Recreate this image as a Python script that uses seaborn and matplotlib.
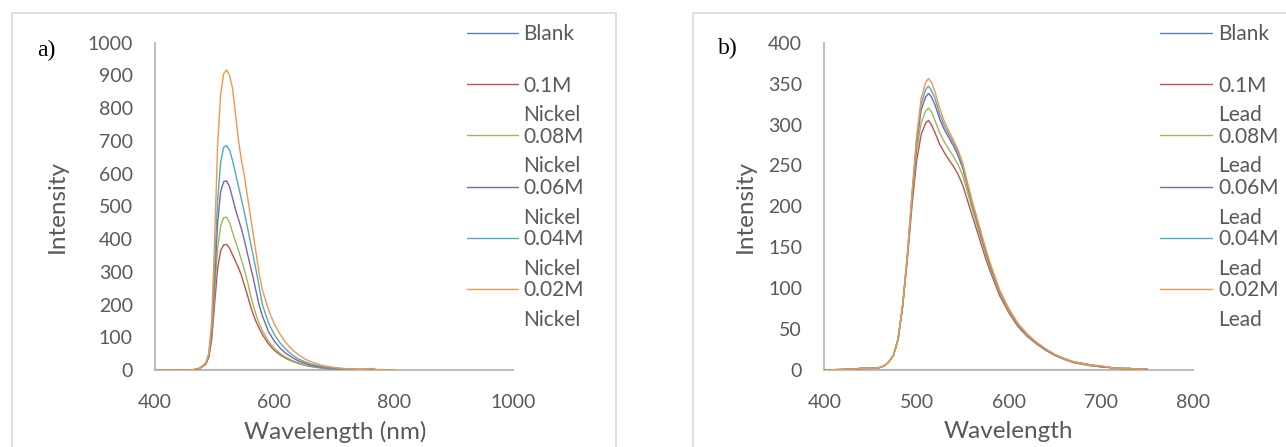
import matplotlib
matplotlib.use("Agg")
import matplotlib.pyplot as plt
import seaborn as sns
import pandas as pd
from matplotlib.lines import Line2D
from matplotlib.patches import Rectangle

sns.set_style("white")
plt.rcParams['font.family'] = ['Lato', 'DejaVu Sans']

# ---------------- data ----------------
SERIES = ["Blank", "0.1M", "0.08M", "0.06M", "0.04M", "0.02M"]
METAL_A = "Nickel"
METAL_B = "Lead"
COLORS = ["#4F81BD", "#C0504D", "#9BBB59", "#8064A2", "#4BACC6", "#F79646"]

# panel a) Nickel
WL_A = [400, 450, 465, 475, 485, 490, 495, 500, 505, 510, 515, 520, 525, 530, 535,
        540, 545, 550, 555, 560, 565, 570, 575, 580, 590, 600, 610, 620, 630, 640,
        650, 660, 680, 700, 720, 740, 755, 762, 770, 780, 800]
BLANK_WL_A = [400, 800]
BLANK_A = [0, 0]
NI_010 = [0, 0, 1, 5, 17, 38, 92, 205, 310, 365, 382, 384, 372, 352, 332, 312, 288, 258, 228, 196,
          168, 145, 126, 108, 80, 60, 46, 35, 27, 20, 15, 11, 6, 3, 2, 1, 2, 4, 1, 1, 0]
NI_008 = [0, 0, 1, 5, 18, 40, 100, 240, 370, 440, 465, 467, 450, 420, 392, 365, 335, 305, 270, 230,
          195, 165, 140, 120, 88, 66, 50, 38, 29, 22, 16, 12, 7, 4, 2, 1, 2, 4, 1, 1, 0]
NI_006 = [0, 0, 1, 5, 19, 42, 110, 280, 450, 545, 575, 578, 560, 525, 490, 460, 430, 395, 355, 316,
          278, 235, 195, 165, 118, 88, 66, 50, 38, 28, 21, 15, 8, 5, 3, 2, 2, 4, 1, 1, 0]
NI_004 = [0, 0, 1, 5, 20, 45, 125, 320, 520, 635, 680, 686, 672, 640, 600, 560, 520, 480, 435, 390,
          345, 300, 250, 200, 145, 108, 82, 62, 46, 34, 26, 19, 10, 6, 3, 2, 2, 4, 1, 1, 0]
NI_002 = [0, 0, 1, 6, 22, 50, 150, 400, 690, 840, 905, 917, 900, 860, 780, 700, 640, 590, 530, 470,
          410, 350, 290, 245, 185, 140, 108, 82, 62, 47, 35, 26, 14, 8, 4, 2, 2, 5, 1, 1, 0]

# panel b) Lead
WL_B = [400, 430, 440, 450, 460, 465, 470, 475, 480, 485, 490, 495, 500, 505, 510, 513, 516, 520,
        525, 530, 535, 540, 545, 550, 555, 560, 565, 570, 575, 580, 590, 600, 610, 620, 630, 640,
        650, 660, 670, 680, 690, 700, 710, 720, 730, 740, 750]
BLANK_WL_B = [400, 750]
BLANK_B = [0, 0]
PB_010 = [0, 1, 2, 2, 3, 5, 10, 18, 37, 78, 135, 200, 255, 288, 302, 305, 300, 290, 276, 266,
          257, 249, 239, 226, 208, 190, 172, 154, 136, 120, 91, 70, 53, 41, 32, 24, 18, 13, 9, 7,
          5, 4, 3, 2, 1, 1, 1]
PB_008 = [0, 1, 2, 2, 3, 5, 10, 18, 38, 79, 138, 206, 268, 302, 317, 320, 316, 305, 290, 279,
          270, 261, 251, 238, 218, 198, 179, 160, 141, 124, 94, 72, 55, 42, 33, 25, 18, 13, 10, 7,
          5, 4, 3, 2, 1, 1, 1]
PB_006 = [0, 1, 2, 2, 3, 5, 10, 18, 38, 80, 139, 210, 276, 318, 334, 338, 334, 324, 307, 294,
          284, 274, 262, 247, 225, 204, 184, 164, 145, 127, 96, 74, 56, 43, 33, 25, 18, 14, 10, 8,
          6, 4, 3, 2, 2, 1, 1]
PB_004 = [0, 1, 2, 2, 3, 5, 10, 18, 38, 80, 140, 212, 280, 325, 343, 347, 342, 332, 313, 299,
          288, 278, 266, 250, 228, 206, 186, 166, 147, 129, 97, 74, 56, 43, 33, 25, 19, 14, 10, 8,
          6, 5, 3, 2, 2, 1, 1]
PB_002 = [0, 1, 2, 2, 3, 5, 10, 18, 38, 80, 140, 215, 285, 332, 352, 356, 352, 340, 320, 304,
          292, 281, 269, 253, 230, 208, 188, 168, 148, 130, 98, 75, 57, 44, 34, 26, 19, 14, 10, 8,
          6, 5, 3, 2, 2, 1, 1]

XTICKS_A = [400, 600, 800, 1000]
YTICKS_A = list(range(0, 1001, 100))
XTICKS_B = [400, 500, 600, 700, 800]
YTICKS_B = list(range(0, 401, 50))


def long_frame(blank_wl, blank, wl, curves):
    frames = [pd.DataFrame({"wl": blank_wl, "val": blank, "series": "Blank"})]
    for name, vals in zip(SERIES[1:], curves):
        frames.append(pd.DataFrame({"wl": wl, "val": vals, "series": name}))
    return pd.concat(frames, ignore_index=True)


df_a = long_frame(BLANK_WL_A, BLANK_A, WL_A, [NI_010, NI_008, NI_006, NI_004, NI_002])
df_b = long_frame(BLANK_WL_B, BLANK_B, WL_B, [PB_010, PB_008, PB_006, PB_004, PB_002])

# ---------------- figure ----------------
W, H = 1286, 447
fig = plt.figure(figsize=(W / 100, H / 100), dpi=100)
TXT = "#595959"

# panel borders
fig.add_artist(Rectangle((11.7 / W, -0.1), (615.7 - 11.7) / W, 1.1 - 13.3 / H,
                         transform=fig.transFigure, fill=False, edgecolor="#d9d9d9", lw=1.2))
fig.add_artist(Rectangle((692.7 / W, -0.1), 1.2, 1.1 - 13.3 / H,
                         transform=fig.transFigure, fill=False, edgecolor="#d9d9d9", lw=1.2))

axA = fig.add_axes([155 / W, 1 - 370 / H, 358 / W, 327.3 / H])
axB = fig.add_axes([824.3 / W, 1 - 370 / H, 369 / W, 327.3 / H])
palette = dict(zip(SERIES, COLORS))

for ax, df, xt, yt, xlim, ylim, xlabel, xlab_x, ylab_x in [
        (axA, df_a, XTICKS_A, YTICKS_A, (400, 1000), (0, 1000), "Wavelength (nm)", 0.503, -0.274),
        (axB, df_b, XTICKS_B, YTICKS_B, (400, 800), (0, 400), "Wavelength", 0.498, -0.215)]:
    sns.lineplot(data=df, x="wl", y="val", hue="series", hue_order=SERIES, palette=palette,
                 estimator=None, linewidth=1.0, legend=False, ax=ax, zorder=3)
    ax.set_xlim(*xlim)
    ax.set_ylim(*ylim)
    ax.set_xticks(xt)
    ax.set_yticks(yt)
    ax.tick_params(axis="both", length=0, labelsize=14, colors=TXT)
    ax.tick_params(axis="x", pad=17.5)
    ax.tick_params(axis="y", pad=16)
    for s in ["top", "right"]:
        ax.spines[s].set_visible(False)
    for s in ["left", "bottom"]:
        ax.spines[s].set_color("#bfbfbf")
        ax.spines[s].set_linewidth(1.5)
    ax.grid(False)
    ax.set_facecolor("none")
    ax.set_xlabel(xlabel, fontsize=17.5, color=TXT)
    ax.set_ylabel("Intensity", fontsize=17.5, color=TXT)
    ax.xaxis.set_label_coords(xlab_x, -0.1885)
    ax.xaxis.label.set_verticalalignment("center")
    ax.yaxis.set_label_coords(ylab_x, 0.5)
    ax.yaxis.label.set_verticalalignment("center")

# panel letters
fig.text(46 / W, 1 - 50 / H, "a)", family="Liberation Serif", fontsize=17,
         ha="center", va="center", color="black")
fig.text(728 / W, 1 - 48 / H, "b)", family="Liberation Serif", fontsize=17,
         ha="center", va="center", color="black")


def draw_legend(x_line0, x_line1, x_text, metal):
    y0, pitch, second = 33, 51.2, 29.5
    for i, (name, col) in enumerate(zip(SERIES, COLORS)):
        y = y0 + i * pitch
        fig.add_artist(Line2D([x_line0 / W, x_line1 / W], [1 - y / H, 1 - y / H],
                              transform=fig.transFigure, color=col, lw=1.0))
        fig.text(x_text / W, 1 - (y + 7.5) / H, name, fontsize=15, color=TXT,
                 ha="left", va="baseline")
        if name != "Blank":
            fig.text(x_text / W, 1 - (y + second + 7.5) / H, metal, fontsize=15, color=TXT,
                     ha="left", va="baseline")


draw_legend(467, 518, 523, METAL_A)
draw_legend(1160, 1212, 1218, METAL_B)

fig.savefig("out.png", dpi=100)
